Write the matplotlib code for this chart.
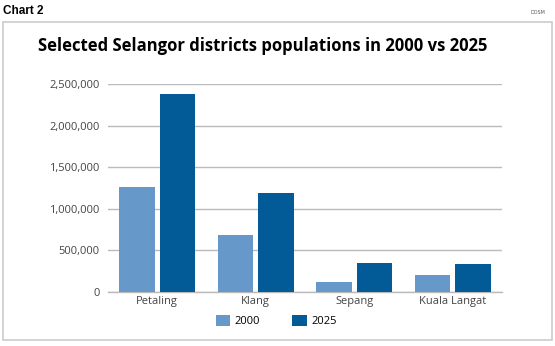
import matplotlib.pyplot as plt
from matplotlib.patches import Rectangle
import numpy as np

# populations
districts = ["Petaling", "Klang", "Sepang", "Kuala Langat"]
pop_2000 = [1257000, 679000, 113000, 201000]
pop_2025 = [2376000, 1184000, 349000, 330000]
years = ["2000", "2025"]
yticks = [0, 500000, 1000000, 1500000, 2000000, 2500000]

light = "#6699c9"
dark = "#025a96"
grey_text = "#444444"

fig = plt.figure(figsize=(5.55, 3.46), dpi=100)

# outer frame box
fig.patches.append(Rectangle((3 / 555, 6 / 346), 549 / 555, 318 / 346,
                             transform=fig.transFigure, fill=False,
                             edgecolor="#cccccc", linewidth=1.2))

fig.text(3 / 555, 1 - 11 / 346, "Chart 2", fontsize=8.5, fontweight="bold",
         family="Liberation Sans", va="center", ha="left")
fig.text(545 / 555, 1 - 13 / 346, "DOSM", fontsize=3.5, color="#555555",
         va="center", ha="right")
fig.text(263 / 555, 1 - 46 / 346, "Selected Selangor districts populations in 2000 vs 2025",
         fontsize=12, fontweight="bold", family="Open Sans", va="center", ha="center")

ax = fig.add_axes([108 / 555, 1 - 291.7 / 346, 394 / 555, 207.7 / 346])
x = np.arange(len(districts))
w = 0.36
gap = 0.05
ax.bar(x - (w + gap) / 2, pop_2000, w, color=light, label=years[0], zorder=3)
ax.bar(x + (w + gap) / 2, pop_2025, w, color=dark, label=years[1], zorder=3)

ax.set_xlim(-0.5, len(districts) - 0.5)
ax.set_ylim(0, 2500000)
ax.set_yticks(yticks)
ax.set_yticklabels([f"{v:,}" for v in yticks])
ax.set_xticks(x)
ax.set_xticklabels(districts)
ax.tick_params(axis="both", length=0, labelsize=8, labelcolor=grey_text)
ax.tick_params(axis="y", pad=6)
ax.tick_params(axis="x", pad=3)
for lab in ax.get_xticklabels() + ax.get_yticklabels():
    lab.set_family("Open Sans")
ax.yaxis.grid(True, color="#bbbbbb", linewidth=1, zorder=0)
for s in ["top", "right", "left"]:
    ax.spines[s].set_visible(False)
ax.spines["bottom"].set_color("#bbbbbb")
ax.spines["bottom"].set_linewidth(1)

fig.legend(loc="center", bbox_to_anchor=(276 / 555, 1 - 321 / 346), ncol=2,
           frameon=False, handlelength=1.3, handleheight=1.25,
           columnspacing=2.9, handletextpad=0.4,
           prop={"family": "Open Sans", "size": 8})

fig.savefig("out.png", dpi=100)
